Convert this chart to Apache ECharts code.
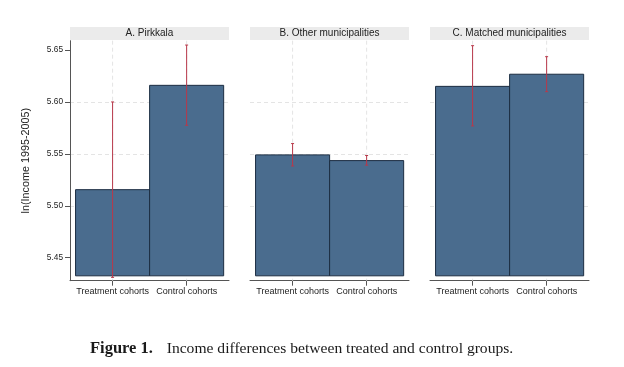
<!DOCTYPE html>
<html><head><meta charset="utf-8">
<script src="https://cdn.jsdelivr.net/npm/echarts@6/dist/echarts.min.js"></script>
<style>html,body{margin:0;padding:0;background:#fff}#c{width:624px;height:367px}</style>
</head><body><div id="c"></div>
<script>
// ---- data ----
const categories = ['Treatment cohorts', 'Control cohorts'];
const panelTitles = ['A. Pirkkala', 'B. Other municipalities', 'C. Matched municipalities'];
const meanA = [5.5155, 5.6160];
const lowA  = [5.4310, 5.5775];
const highA = [5.6000, 5.6548];
const meanB = [5.5490, 5.5435];
const lowB  = [5.5383, 5.5391];
const highB = [5.5599, 5.5484];
const meanC = [5.6150, 5.6267];
const lowC  = [5.5769, 5.6099];
const highC = [5.6542, 5.6436];
const yTicks = [5.45, 5.50, 5.55, 5.60, 5.65];
const yAxisTitle = 'ln(Income 1995-2005)';
const caption = 'Income differences between treated and control groups.';
const captionLead = 'Figure 1.';
const barBase = 5.4325;

// ---- layout / style ----
const Y_MIN = 5.4278, Y_MAX = 5.659;
const X_MIN = -0.575, X_MAX = 1.572;
const plotLefts = [70, 250, 430];
const plotW = 159, plotTop = 40.7, plotH = 240;
const FONT = '"Liberation Sans", Arial, sans-serif';
const SERIF = '"Liberation Serif", "Times New Roman", serif';
const BAR_FILL = '#4a6c8e', BAR_STROKE = '#1c2d42', ERR = '#b8394a';
const GRID_COLOR = '#e4e4e4';

const panels = [
  {mean: meanA, low: lowA, high: highA},
  {mean: meanB, low: lowB, high: highB},
  {mean: meanC, low: lowC, high: highC}
];

const grid = [], xAxis = [], yAxis = [], series = [], title = [];
panels.forEach((p, i) => {
  grid.push({left: plotLefts[i], top: plotTop, width: plotW, height: plotH, containLabel: false, outerBoundsMode: 'none'});
  xAxis.push({
    type: 'value', gridIndex: i, min: X_MIN, max: X_MAX,
    axisLine: {show: true, onZero: false, lineStyle: {color: '#555', width: 1}},
    axisTick: {show: true, customValues: [0, 1], length: 5, lineStyle: {color: '#555'}},
    axisLabel: {customValues: [0, 1], formatter: v => categories[Math.round(v)], fontSize: 9, fontFamily: FONT, color: '#222', margin: 6},
    splitLine: {show: false}
  });
  yAxis.push({
    type: 'value', gridIndex: i, min: Y_MIN, max: Y_MAX,
    name: i === 0 ? yAxisTitle : '',
    nameLocation: 'middle', nameGap: 38,
    nameTextStyle: {fontSize: 10.8, fontFamily: FONT, color: '#222'},
    axisLine: {show: i === 0, onZero: false, lineStyle: {color: '#555', width: 1}},
    axisTick: {show: i === 0, customValues: yTicks, length: 5, lineStyle: {color: '#555'}},
    axisLabel: {show: i === 0, customValues: yTicks, formatter: v => v.toFixed(2), fontSize: 8.3, fontFamily: FONT, color: '#222', margin: 7},
    splitLine: {show: true, showMinLine: false, showMaxLine: false, lineStyle: {color: GRID_COLOR, type: [4, 3], width: 1}}
  });
  title.push({
    text: '{t|' + panelTitles[i] + '}',
    left: plotLefts[i], top: 27, padding: 0,
    textStyle: {fontWeight: 'normal', rich: {t: {width: plotW, height: 13, lineHeight: 13, align: 'center', backgroundColor: '#ebebeb', fontSize: 10, fontWeight: 'normal', fontFamily: FONT, color: '#222'}}}
  });
  // vertical dashed grid lines at category ticks
  series.push({
    type: 'custom', xAxisIndex: i, yAxisIndex: i, z: 1, silent: true,
    data: categories.map((c, k) => [k]),
    encode: {x: 0},
    renderItem: (params, api) => {
      const x = api.value(0);
      const a = api.coord([x, Y_MAX]), b = api.coord([x, Y_MIN]);
      return {type: 'line', shape: {x1: a[0], y1: a[1], x2: b[0], y2: b[1]},
        style: {stroke: GRID_COLOR, lineWidth: 1, lineDash: [4, 3]}};
    }
  });
  // bars
  series.push({
    type: 'custom', xAxisIndex: i, yAxisIndex: i, z: 2,
    data: p.mean.map((v, k) => [k, v]),
    encode: {x: 0, y: 1},
    renderItem: (params, api) => {
      const x = api.value(0), v = api.value(1);
      const tl = api.coord([x - 0.5, v]), br = api.coord([x + 0.5, barBase]);
      return {type: 'rect', shape: {x: tl[0], y: tl[1], width: br[0] - tl[0], height: br[1] - tl[1]},
        style: {fill: BAR_FILL, stroke: BAR_STROKE, lineWidth: 1}};
    }
  });
  // error bars
  series.push({
    type: 'custom', xAxisIndex: i, yAxisIndex: i, z: 3,
    data: p.low.map((lo, k) => [k, lo, p.high[k]]),
    encode: {x: 0, y: [1, 2]},
    renderItem: (params, api) => {
      const x = api.value(0);
      const lo = api.coord([x, api.value(1)]), hi = api.coord([x, api.value(2)]);
      const c = 1.5;
      const st = {stroke: ERR, lineWidth: 1};
      return {type: 'group', children: [
        {type: 'line', shape: {x1: lo[0], y1: lo[1], x2: hi[0], y2: hi[1]}, style: st},
        {type: 'line', shape: {x1: hi[0] - c, y1: hi[1], x2: hi[0] + c, y2: hi[1]}, style: st},
        {type: 'line', shape: {x1: lo[0] - c, y1: lo[1], x2: lo[0] + c, y2: lo[1]}, style: st}
      ]};
    }
  });
});

title.push({
  text: '{b|' + captionLead + '}{n|' + caption + '}',
  left: 90, top: 340, padding: 0,
  textStyle: {fontWeight: 'normal', rich: {
    b: {fontFamily: SERIF, fontWeight: 'bold', fontSize: 16.5, width: 76.7, lineHeight: 18, color: '#1a1a1a'},
    n: {fontFamily: SERIF, fontWeight: 'normal', fontSize: 15.6, lineHeight: 18, color: '#1a1a1a'}
  }}
});

const chart = echarts.init(document.getElementById('c'), null, {renderer: 'canvas'});
chart.setOption({animation: false, backgroundColor: '#fff', title, grid, xAxis, yAxis, series});
</script></body></html>
